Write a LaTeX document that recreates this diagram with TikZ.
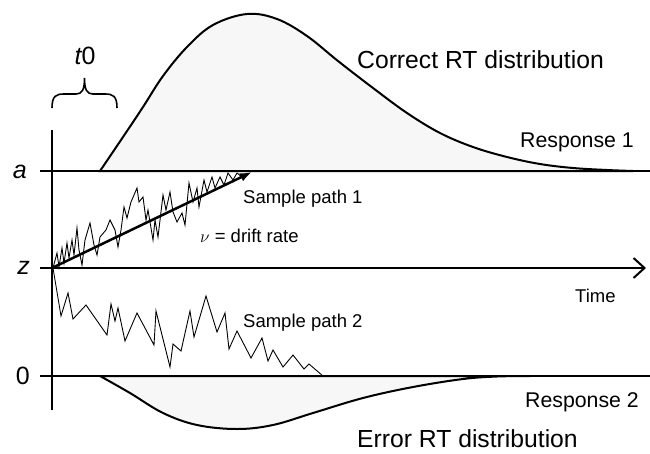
\documentclass[tikz,border=0pt]{standalone}
\usepackage{fontspec}
\setmainfont{Liberation Sans}
\usetikzlibrary{arrows.meta}
\definecolor{distfill}{HTML}{F7F7F7}
\tikzset{
  axisline/.style={line width=2pt},
  distcurve/.style={line width=2pt, fill=distfill},
  pathline/.style={line width=0.9pt, line join=miter},
  lbl/.style={inner sep=0pt, font=\fontsize{18.5}{20}\selectfont},
  biglbl/.style={inner sep=0pt, font=\fontsize{24.7}{26}\selectfont},
  resplbl/.style={inner sep=0pt, font=\fontsize{21.3}{22}\selectfont},
  axlbl/.style={inner sep=0pt, font=\fontsize{25}{27}\selectfont}
}
\begin{document}
\begin{tikzpicture}[x=1pt,y=-1pt]
\useasboundingbox (0,0) rectangle (650,453);
% distributions
\draw[distcurve] plot[smooth, tension=0.6] coordinates {(100,171) (123,137) (143,107) (163,76) (187,47) (213,25) (247,14) (277,19) (307,36) (338,61) (373,88) (407,113) (440,133) (473,147) (507,157) (540,164) (573,168) (607,170) (633,171)} -- cycle;
\draw[distcurve] plot[smooth, tension=0.6] coordinates {(100,376) (130,393) (163,413) (197,425) (237,429) (273,425) (313,413) (363,398) (413,387) (463,379) (497,376.5) (530,376)} -- cycle;
% axes
\coordinate (origin) at (52,268);
\coordinate (timeend) at (646,268);
\coordinate (drifttip) at (252,172);
\draw[axisline] (52,130) -- (52,410);
\draw[axisline] (40,171) -- (650,171);
\draw[axisline] (40,376) -- (650,376);
\draw[axisline, -{Straight Barb[length=11pt,width=20pt,line width=2pt]}] (40,268) -- (timeend);
% sample paths
\draw[pathline] plot coordinates {(53,268) (57,253) (59,267) (62,248) (64,263) (67,243) (69,258) (72,240) (74,255) (77,228) (79,250) (82,265) (85,240) (90,223) (94,245) (97,255) (100,237) (106,230) (110,220) (115,230) (118,247) (121,230) (124,207) (127,218) (131,202) (137,188) (139,202) (143,197) (146,220) (148,210) (153,240) (155,220) (158,237) (163,195) (166,210) (170,192) (173,212) (177,222) (182,213) (185,225) (189,183) (193,202) (197,188) (199,207) (204,180) (207,192) (212,177) (215,188) (220,177) (224,185) (228,173) (233,180) (237,173) (242,177)};
\draw[pathline] plot coordinates {(53,268) (61,316) (68,293) (73,319) (86,305) (107,335) (111,304) (115,321) (118,308) (125,341) (137,313) (154,345) (156,311) (170,367) (173,344) (181,351) (190,311) (194,337) (206,296) (217,332) (225,313) (229,349) (237,331) (251,358) (262,338) (268,361) (273,350) (283,367) (293,355) (304,369) (309,364) (323,376)};
% drift arrow
\draw[line width=2.5pt, -{Latex[length=12pt,width=9pt]}] (origin) -- (drifttip);
% brace
\draw[line width=1.6pt] (52,108) .. controls (52,96) and (56,94) .. (64,94) -- (76,94) .. controls (82,94) and (84.5,90) .. (84.5,78)
  .. controls (84.5,90) and (87,94) .. (93,94) -- (105,94) .. controls (113,94) and (117,96) .. (117,108);
% labels
\node[axlbl] (t0) at (85,56) {\itshape t\upshape 0};
\node[axlbl, anchor=east] (alab) at (27,172) {\itshape a};
\node[axlbl, anchor=east] (zlab) at (30,268) {\itshape z};
\node[axlbl, anchor=east] (zerolab) at (30,376) {0};
\node[biglbl, anchor=base west] (correct) at (357,68) {Correct RT distribution};
\node[biglbl, anchor=base west] (error) at (357,447.5) {Error RT distribution};
\node[resplbl, anchor=east] (resp1) at (634,142) {Response 1};
\node[resplbl, anchor=east] (resp2) at (639,402) {Response 2};
\node[lbl, anchor=west] (sp1) at (243,199) {Sample path 1};
\node[lbl, anchor=west] (sp2) at (243,323) {Sample path 2};
\node[lbl, anchor=west] (drift) at (200,236) {$\nu$ = drift rate};
\node[lbl, anchor=west] (time) at (575,296) {Time};
\end{tikzpicture}
\end{document}
